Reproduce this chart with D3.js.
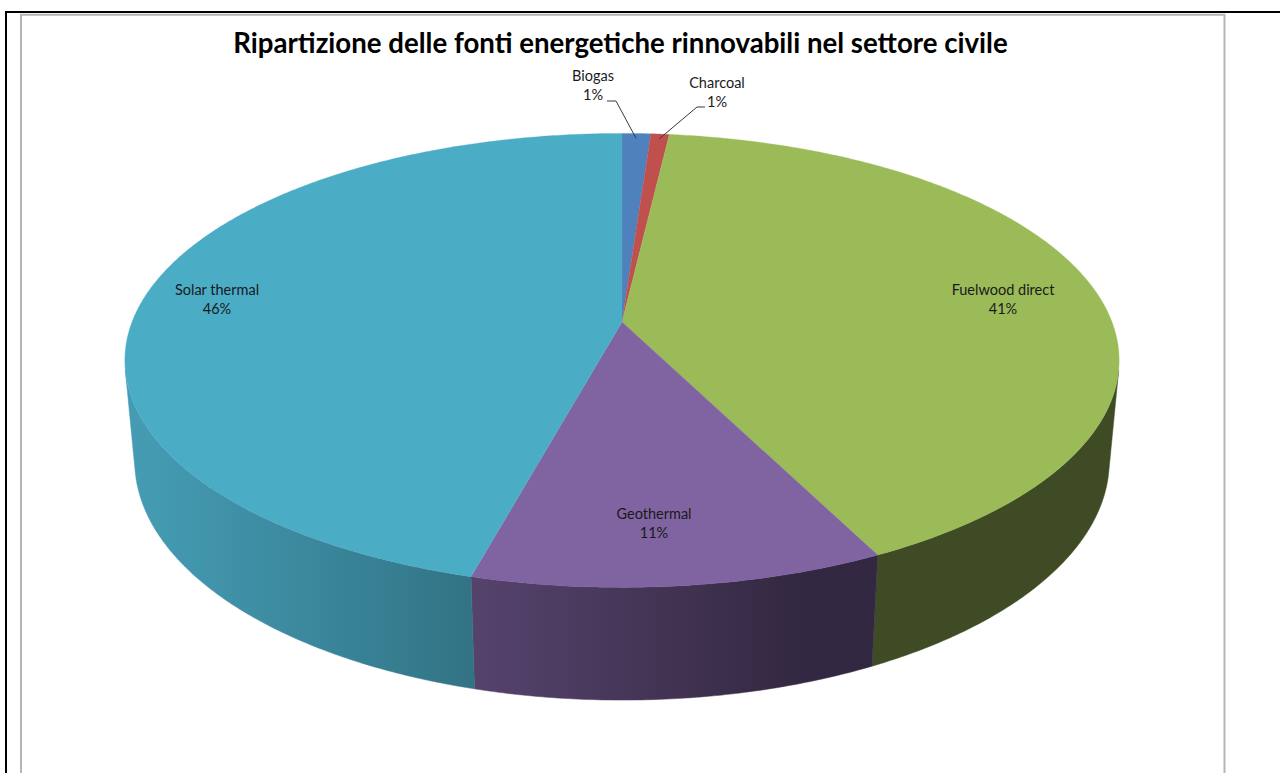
<!DOCTYPE html>
<html>
<head>
<meta charset="utf-8">
<script src="https://cdn.jsdelivr.net/npm/d3@7"></script>
<style>
  html, body { margin: 0; padding: 0; background: #fff; }
  svg { display: block; }
</style>
</head>
<body>
<svg id="chart" width="1280" height="773"></svg>
<script>
// Shares of renewable sources used in the residential/civil sector (%)
const categories = ["Biogas", "Charcoal", "Fuelwood direct", "Geothermal", "Solar thermal"];
const shares = [1.1, 0.7, 40.9, 11.45, 45.85];
const colors = ["#4F81BD", "#C0504D", "#9BBB59", "#8064A2", "#4BACC6"];
const chartTitle = "Ripartizione delle fonti energetiche rinnovabili nel settore civile";

// Label placement (centre of the two-line label block); small slices
// get a leader line from the label to the rim.
const labelLayout = {
  "Biogas":          { x: 593,  y: 86,  tail: [607, 101], elbow: [616, 101] },
  "Charcoal":        { x: 717,  y: 93,  tail: [705, 107], elbow: [697, 107] },
  "Fuelwood direct": { x: 1003, y: 300 },
  "Geothermal":      { x: 654,  y: 524 },
  "Solar thermal":   { x: 217,  y: 300 }
};

const svg = d3.select("#chart");
const defs = svg.append("defs");

// ---- frames ----
svg.append("path")
  .attr("d", "M6,780 L6,12 L1290,12")
  .attr("fill", "none").attr("stroke", "#000").attr("stroke-width", 2);
svg.append("path")
  .attr("d", "M21,780 L21,14.75 L1224.5,14.75 L1224.5,780")
  .attr("fill", "none").attr("stroke", "#b5b5b5").attr("stroke-width", 2);

// ---- title ----
const titleText = svg.append("text")
  .attr("x", 620.5).attr("y", 53)
  .attr("text-anchor", "middle")
  .attr("font-family", "Lato, 'Open Sans', sans-serif")
  .attr("font-weight", "bold")
  .attr("font-size", 24)
  .attr("fill", "#000")
  .text(chartTitle);
{
  const w = titleText.node().getComputedTextLength();
  titleText.attr("font-size", 24 * 775 / w);
}

// ---- 3D pie projection (perspective view of a disk seen from above) ----
const cx = 622, cy = 322;       // screen position of the disk centre
const focal = 490;              // radius scale in px
const camDist = 5.28;           // camera distance in disk radii
const sinE = 0.45, cosE = Math.sqrt(1 - sinE * sinE);   // view elevation
const thickness = 0.231;        // disk height in radii

function project(theta, r, y) {
  const X = r * Math.sin(theta), Z = -r * Math.cos(theta);
  const v = y * cosE - Z * sinE;
  const t = y * sinE + Z * cosE;
  const k = camDist / (camDist - t);
  return [cx + focal * X * k, cy - focal * v * k];
}

// light from the left/front: brightness of the rim wall by angle
function wallShade(theta) {
  return 0.40 + Math.max(0, -0.48 * Math.sin(theta) - 0.151 * Math.cos(theta));
}
function darken(hex, k) {
  const c = d3.rgb(hex);
  return d3.rgb(c.r * k, c.g * k, c.b * k).formatHex();
}

const pie = d3.pie().sort(null).value(d => d.value)
  .startAngle(0).endAngle(2 * Math.PI);
const data = categories.map((name, i) => ({ name, value: shares[i], color: colors[i] }));
const arcs = pie(data);
const total = d3.sum(shares);

// ---- rim walls (only the part that faces the camera) ----
// visible where -cos(theta) > 1 / (camera distance * cos(elevation))
const visStart = Math.acos(-1 / (camDist * cosE));
const visEnd = 2 * Math.PI - visStart;
const step = Math.PI / 360;
const wallLayer = svg.append("g");
arcs.forEach((a, i) => {
  const t0 = Math.max(a.startAngle, visStart);
  const t1 = Math.min(a.endAngle, visEnd);
  if (t1 <= t0) return;
  const n = Math.max(2, Math.ceil((t1 - t0) / step));
  const angles = d3.range(n + 1).map(j => t0 + (t1 - t0) * j / n);
  const topPts = angles.map(th => project(th, 1, 0));
  const botPts = angles.map(th => project(th, 1, -thickness)).reverse();

  const xa = topPts[0][0], xb = topPts[n][0];
  const grad = defs.append("linearGradient")
    .attr("id", "wall" + i)
    .attr("gradientUnits", "userSpaceOnUse")
    .attr("x1", xa).attr("y1", 0).attr("x2", xb).attr("y2", 0);
  angles.forEach((th, j) => {
    if (j % 4 !== 0 && j !== n) return;
    grad.append("stop")
      .attr("offset", (topPts[j][0] - xa) / (xb - xa))
      .attr("stop-color", darken(a.data.color, wallShade(th)));
  });

  wallLayer.append("path")
    .attr("d", "M" + topPts.concat(botPts).map(p => p.join(",")).join("L") + "Z")
    .attr("fill", `url(#wall${i})`)
    .attr("stroke", `url(#wall${i})`).attr("stroke-width", 0.5);
});

// ---- top face ----
const faceLayer = svg.append("g");
arcs.forEach(a => {
  const n = Math.max(2, Math.ceil((a.endAngle - a.startAngle) / step));
  const pts = [project(0, 0, 0)];
  for (let i = 0; i <= n; i++) {
    const th = a.startAngle + (a.endAngle - a.startAngle) * i / n;
    pts.push(project(th, 1, 0));
  }
  faceLayer.append("path")
    .attr("d", "M" + pts.map(p => p.join(",")).join("L") + "Z")
    .attr("fill", a.data.color)
    .attr("stroke", a.data.color).attr("stroke-width", 0.3);
});

// ---- data labels ----
const fmtPct = v => Math.round(v / total * 100) + "%";
const labelLayer = svg.append("g")
  .attr("font-family", "Lato, 'Open Sans', sans-serif")
  .attr("font-size", 14.5)
  .attr("fill", "#1a1a1a")
  .attr("text-anchor", "middle");

arcs.forEach(a => {
  const mid = (a.startAngle + a.endAngle) / 2;
  const pos = labelLayout[a.data.name];
  if (pos.tail) {
    const end = project(mid, 0.97, 0);
    svg.append("path")
      .attr("d", `M${pos.tail}L${pos.elbow}L${end}`)
      .attr("fill", "none").attr("stroke", "#3a3a3a").attr("stroke-width", 1);
  }
  labelLayer.append("text").attr("x", pos.x).attr("y", pos.y - 5).text(a.data.name);
  labelLayer.append("text").attr("x", pos.x).attr("y", pos.y + 14).text(fmtPct(a.data.value));
});
</script>
</body>
</html>
